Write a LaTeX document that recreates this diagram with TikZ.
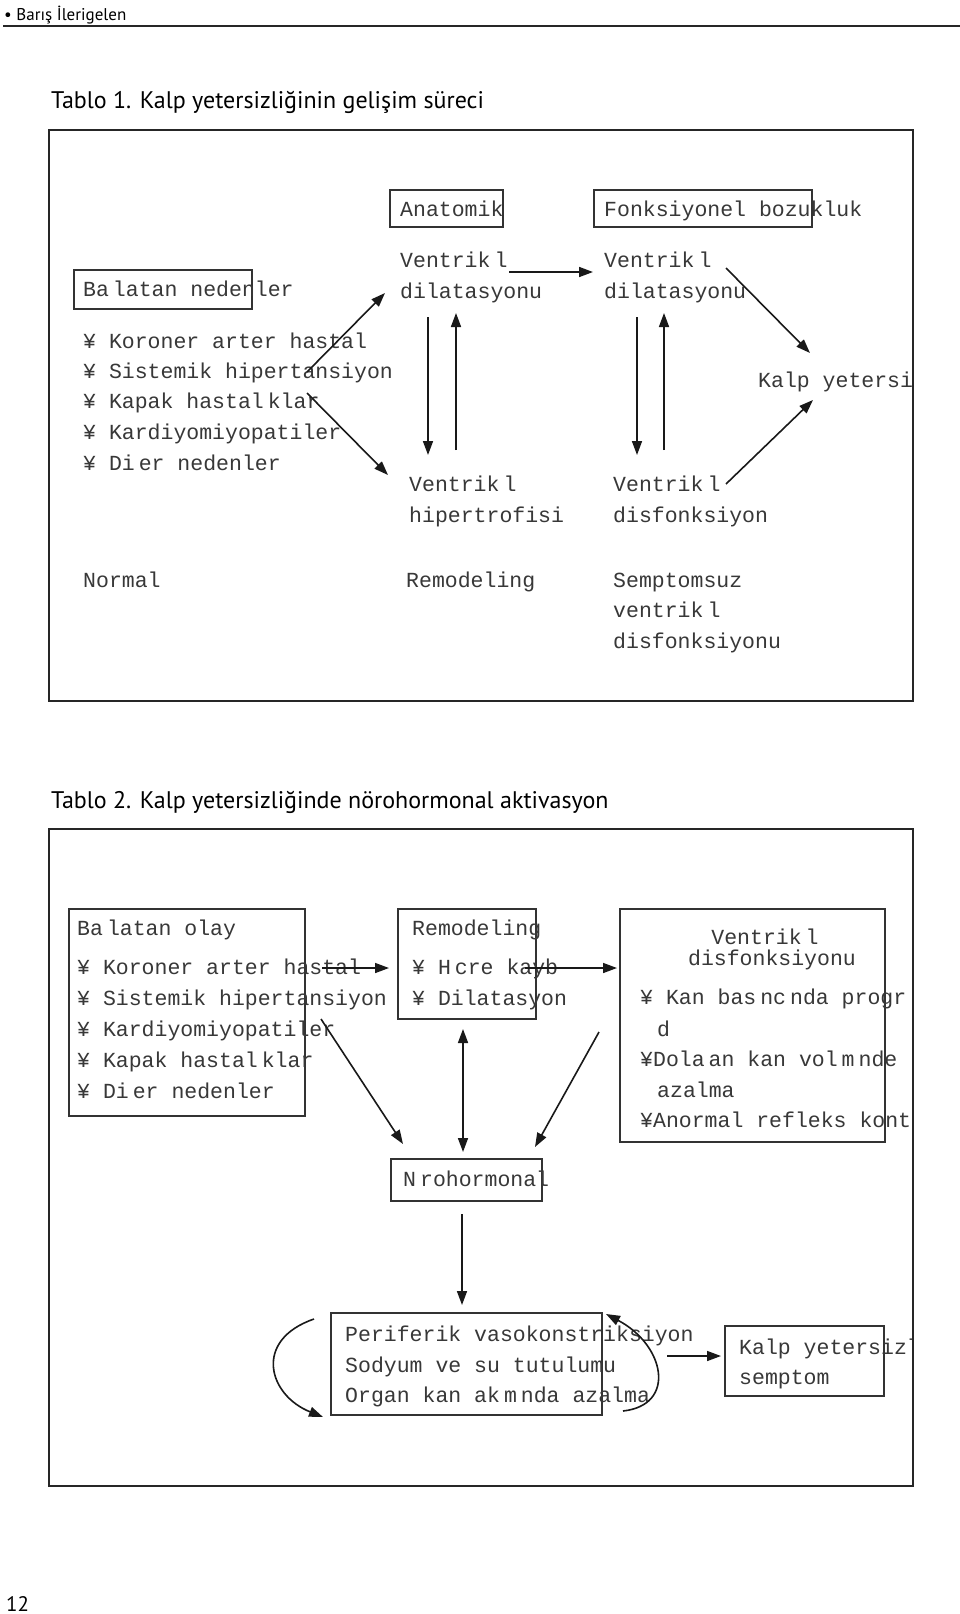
\documentclass[tikz,border=0pt]{standalone}
\usepackage{fontspec}
\setmainfont{PT Sans}
\newfontfamily\monof{Liberation Mono}
\usetikzlibrary{arrows.meta}
\newcommand\gp{\hspace{4pt}}
\begin{document}
\begin{tikzpicture}[x=1pt,y=-1pt,
  mono/.style={font=\monof\fontsize{21.5}{26}\selectfont, text=black!78, inner sep=0pt, anchor=base west},
  sans/.style={font=\fontsize{#1}{#1}\selectfont, text=black, inner sep=0pt, anchor=base west},
  frame/.style={draw=black!85, line width=2pt},
  bx/.style={draw=black!80, line width=1.8pt},
  arr/.style={line width=1.6pt, draw=black!90, -{Triangle[length=14pt,width=10pt]}},
  darr/.style={line width=1.6pt, draw=black!90, {Triangle[length=14pt,width=10pt]}-{Triangle[length=14pt,width=10pt]}}]
\useasboundingbox (0,0) rectangle (960,1614);
\fill[white] (0,0) rectangle (960,1614);

% header
\node[sans=17] (hdr) at (4,20) {\textbullet\ Barış İlerigelen};
\draw[line width=1.5pt, black!85] (3,26) -- (960,26);
\node[sans=24] (t1) at (51,108) {Tablo 1. Kalp yetersizliğinin gelişim süreci};
\node[sans=24] (t2) at (51,808) {Tablo 2. Kalp yetersizliğinde nörohormonal aktivasyon};
\node[sans=21] (pg) at (6,1611) {12};

% ===== Table 1 =====
\draw[frame] (49,130) rectangle (913,701);
\begin{scope}
\clip (49,130) rectangle (912,701);
\draw[bx] (390,190) rectangle (503,227);
\draw[bx] (594,190) rectangle (812,227);
\draw[bx] (74,270) rectangle (252,309);
\node[mono] (anat) at (400,216) {Anatomik};
\node[mono] (fonk) at (604,216) {Fonksiyonel bozukluk};
\node[mono] (vd1a) at (400,267) {Ventrik\gp l};
\node[mono] (vd1b) at (400,298) {dilatasyonu};
\node[mono] (vd2a) at (604,267) {Ventrik\gp l};
\node[mono] (vd2b) at (604,298) {dilatasyonu};
\node[mono] (bn) at (83,296) {Ba\gp latan nedenler};
\node[mono] (l1) at (83,348) {¥ Koroner arter hastal};
\node[mono] (l2) at (83,378) {¥ Sistemik hipertansiyon};
\node[mono] (l3) at (83,408) {¥ Kapak hastal\gp klar};
\node[mono] (l4) at (83,439) {¥ Kardiyomiyopatiler};
\node[mono] (l5) at (83,470) {¥ Di\gp er nedenler};
\node[mono] (vha) at (409,491) {Ventrik\gp l};
\node[mono] (vhb) at (409,522) {hipertrofisi};
\node[mono] (vfa) at (613,491) {Ventrik\gp l};
\node[mono] (vfb) at (613,522) {disfonksiyon};
\node[mono] (ky) at (758,387) {Kalp yetersi};
\node[mono] (nor) at (83,587) {Normal};
\node[mono] (rem) at (406,587) {Remodeling};
\node[mono] (sa) at (613,587) {Semptomsuz};
\node[mono] (sb) at (613,617) {ventrik\gp l};
\node[mono] (sc) at (613,648) {disfonksiyonu};
\end{scope}
\coordinate (h1) at (509,272); \coordinate (h2) at (593,272);
\coordinate (a1s) at (307,372); \coordinate (a1e) at (385,293);
\coordinate (a2s) at (307,393); \coordinate (a2e) at (388,475);
\coordinate (d1s) at (428,317); \coordinate (d1e) at (428,455);
\coordinate (u1s) at (456,450); \coordinate (u1e) at (456,313);
\coordinate (d2s) at (637,317); \coordinate (d2e) at (637,455);
\coordinate (u2s) at (664,450); \coordinate (u2e) at (664,313);
\coordinate (k1s) at (726,268); \coordinate (k1e) at (810,353);
\coordinate (k2s) at (726,484); \coordinate (k2e) at (813,400);
\draw[arr] (h1) -- (h2);
\draw[arr] (a1s) -- (a1e);
\draw[arr] (a2s) -- (a2e);
\draw[arr] (d1s) -- (d1e);
\draw[arr] (u1s) -- (u1e);
\draw[arr] (d2s) -- (d2e);
\draw[arr] (u2s) -- (u2e);
\draw[arr] (k1s) -- (k1e);
\draw[arr] (k2s) -- (k2e);

% ===== Table 2 =====
\draw[frame] (49,829) rectangle (913,1486);
\begin{scope}
\clip (49,829) rectangle (911,1486);
\draw[bx] (69,909) rectangle (305,1116);
\draw[bx] (398,909) rectangle (536,1019);
\draw[bx] (620,909) rectangle (885,1142);
\draw[bx] (391,1159) rectangle (542,1201);
\draw[bx] (331,1313) rectangle (602,1415);
\draw[bx] (725,1326) rectangle (884,1396);
\node[mono] (bo) at (77,935) {Ba\gp latan olay};
\node[mono] (m1) at (77,974) {¥ Koroner arter hastal};
\node[mono] (m2) at (77,1005) {¥ Sistemik hipertansiyon};
\node[mono] (m3) at (77,1036) {¥ Kardiyomiyopatiler};
\node[mono] (m4) at (77,1067) {¥ Kapak hastal\gp klar};
\node[mono] (m5) at (77,1098) {¥ Di\gp er nedenler};
\node[mono] (re) at (412,935) {Remodeling};
\node[mono] (r1) at (412,974) {¥ H\gp cre kayb};
\node[mono] (r2) at (412,1005) {¥ Dilatasyon};
\node[mono, anchor=base] (vva) at (765,944) {Ventrik\gp l};
\node[mono, anchor=base] (vvb) at (772,965) {disfonksiyonu};
\node[mono] (v1) at (640,1004) {¥ Kan bas\gp nc\gp nda progr};
\node[mono] (v1b) at (657,1036) {d};
\node[mono] (v2) at (640,1066) {¥Dola\gp an kan vol\gp m\gp nde};
\node[mono] (v2b) at (657,1097) {azalma};
\node[mono] (v3) at (640,1127) {¥Anormal refleks kont};
\node[mono] (nh) at (403,1186) {N\gp rohormonal};
\node[mono] (p1) at (345,1341) {Periferik vasokonstriksiyon};
\node[mono] (p2) at (345,1372) {Sodyum ve su tutulumu};
\node[mono] (p3) at (345,1402) {Organ kan ak\gp m\gp nda azalma};
\node[mono] (ks1) at (739,1354) {Kalp yetersizl};
\node[mono] (ks2) at (739,1384) {semptom};
\end{scope}
\coordinate (b1s) at (322,968); \coordinate (b1e) at (389,968);
\coordinate (b2s) at (525,968); \coordinate (b2e) at (617,968);
\coordinate (n1s) at (321,1019); \coordinate (n1e) at (403,1144);
\coordinate (n2s) at (463,1029); \coordinate (n2e) at (463,1152);
\coordinate (n3s) at (599,1032); \coordinate (n3e) at (535,1147);
\coordinate (n4s) at (462,1214); \coordinate (n4e) at (462,1305);
\coordinate (c1s) at (314,1319); \coordinate (c1e) at (323,1417);
\coordinate (c2s) at (623,1411); \coordinate (c2e) at (606,1314);
\coordinate (s1) at (667,1356); \coordinate (s2) at (721,1356);
\draw[arr] (b1s) -- (b1e);
\draw[arr] (b2s) -- (b2e);
\draw[arr] (n1s) -- (n1e);
\draw[darr] (n2s) -- (n2e);
\draw[arr] (n3s) -- (n3e);
\draw[arr] (n4s) -- (n4e);
\draw[arr] (c1s) .. controls (253,1340) and (268,1395) .. (c1e);
\draw[arr] (c2s) .. controls (677,1405) and (665,1345) .. (c2e);
\draw[arr] (s1) -- (s2);
\end{tikzpicture}
\end{document}
